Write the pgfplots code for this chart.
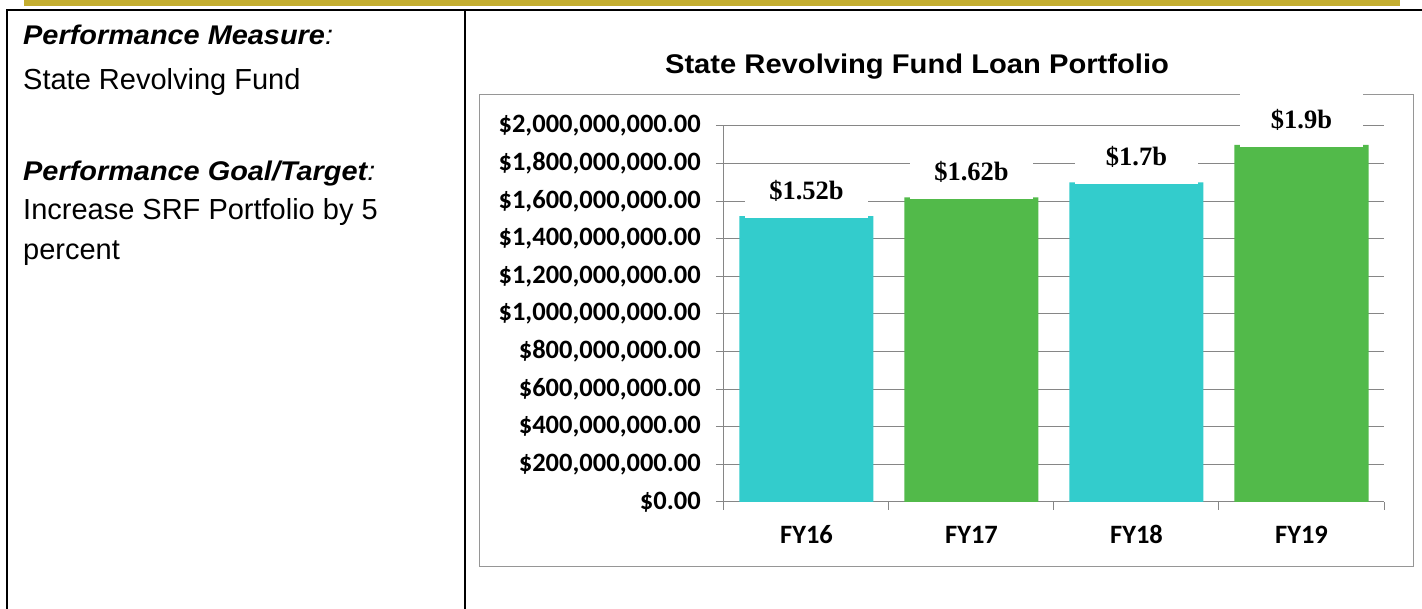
\documentclass[border=0pt]{standalone}
\usepackage{fontspec}
\setmainfont{Liberation Sans}
\newfontfamily\calibri{Carlito}
\newfontfamily\timesf{Liberation Serif}
\usepackage{graphicx}
\usepackage{pgfplots}
\pgfplotsset{compat=1.18}
\definecolor{gold}{RGB}{196,174,48}
\definecolor{barcyan}{RGB}{51,204,204}
\definecolor{bargreen}{RGB}{82,186,74}
\definecolor{gridg}{RGB}{134,134,134}
\definecolor{boxg}{RGB}{150,150,150}
\newcommand\BI[1]{\scalebox{1.07}[1]{\fontsize{27}{32}\selectfont\bfseries\itshape #1\mdseries:}}
\newcommand\RG[1]{{\fontsize{29}{34}\selectfont #1}}
\begin{document}
\begin{tikzpicture}
\begin{scope}[x=1pt,y=1pt,shift={(-724pt,-107pt)}]
\path[use as bounding box] (0,0) rectangle (1422,609);
\fill[white] (0,0) rectangle (1422,609);
\fill[gold] (24,603) rectangle (1400,609);
\draw[black, line width=2pt] (7,0) -- (7,599) -- (1422,599);
\draw[black, line width=2pt] (465,0) -- (465,599);
\node[anchor=base west, inner sep=0pt] at (23,564) {\BI{Performance Measure}};
\node[anchor=base west, inner sep=0pt] at (23,519) {\RG{State Revolving Fund}};
\node[anchor=base west, inner sep=0pt] at (23,428) {\BI{Performance Goal/Target}};
\node[anchor=base west, inner sep=0pt] at (23,389) {\RG{Increase SRF Portfolio by 5}};
\node[anchor=base west, inner sep=0pt] at (23,349) {\RG{percent}};
\draw[boxg, line width=1pt] (480,42) rectangle (1413,514);
\node[anchor=base, inner sep=0pt] at (917,535) {\scalebox{1.08}[1]{\fontsize{27}{32}\selectfont\bfseries State Revolving Fund Loan Portfolio}};
\end{scope}
\begin{axis}[
  width=660pt, height=376pt, scale only axis,
  clip=false,
  xmin=0.5, xmax=4.5, ymin=0, ymax=2e9,
  scaled y ticks=false,
  axis lines*=left,
  axis line style={gridg, line width=1pt, -},
  ymajorgrids, grid style={gridg, line width=1pt},
  tick align=outside, major tick length=8pt,
  tick style={gridg, line width=1pt},
  ytick={0,2e8,4e8,6e8,8e8,1e9,1.2e9,1.4e9,1.6e9,1.8e9,2e9},
  yticklabels={{\$0.00},{\$200,000,000.00},{\$400,000,000.00},{\$600,000,000.00},{\$800,000,000.00},{\$1,000,000,000.00},{\$1,200,000,000.00},{\$1,400,000,000.00},{\$1,600,000,000.00},{\$1,800,000,000.00},{\$2,000,000,000.00}},
  xtick={0.5,1.5,2.5,3.5,4.5},
  x tick label as interval,
  xticklabels={FY16,FY17,FY18,FY19},
  ticklabel style={font=\calibri\bfseries\fontsize{26.5}{30}\selectfont, text=black, inner sep=0pt},
  yticklabel style={anchor=east, xshift=-15pt},
  xticklabel style={anchor=north, yshift=-16pt, text height=17pt, text depth=0pt},
  ybar, bar width=134pt, bar shift=0pt,
  point meta=explicit symbolic,
  nodes near coords,
  every node near coord/.append style={font=\timesf\bfseries\fontsize{26.5}{30}\selectfont, text=black, fill=white, minimum width=123pt, minimum height=54pt, inner sep=0pt, anchor=south, yshift=-2pt},
]
\addplot[fill=barcyan, draw=none] coordinates {(1,1.52e9)[\$1.52b] (3,1.70e9)[\$1.7b]};
\addplot[fill=bargreen, draw=none] coordinates {(2,1.62e9)[\$1.62b] (4,1.90e9)[\$1.9b]};
\end{axis}
\end{tikzpicture}
\end{document}
